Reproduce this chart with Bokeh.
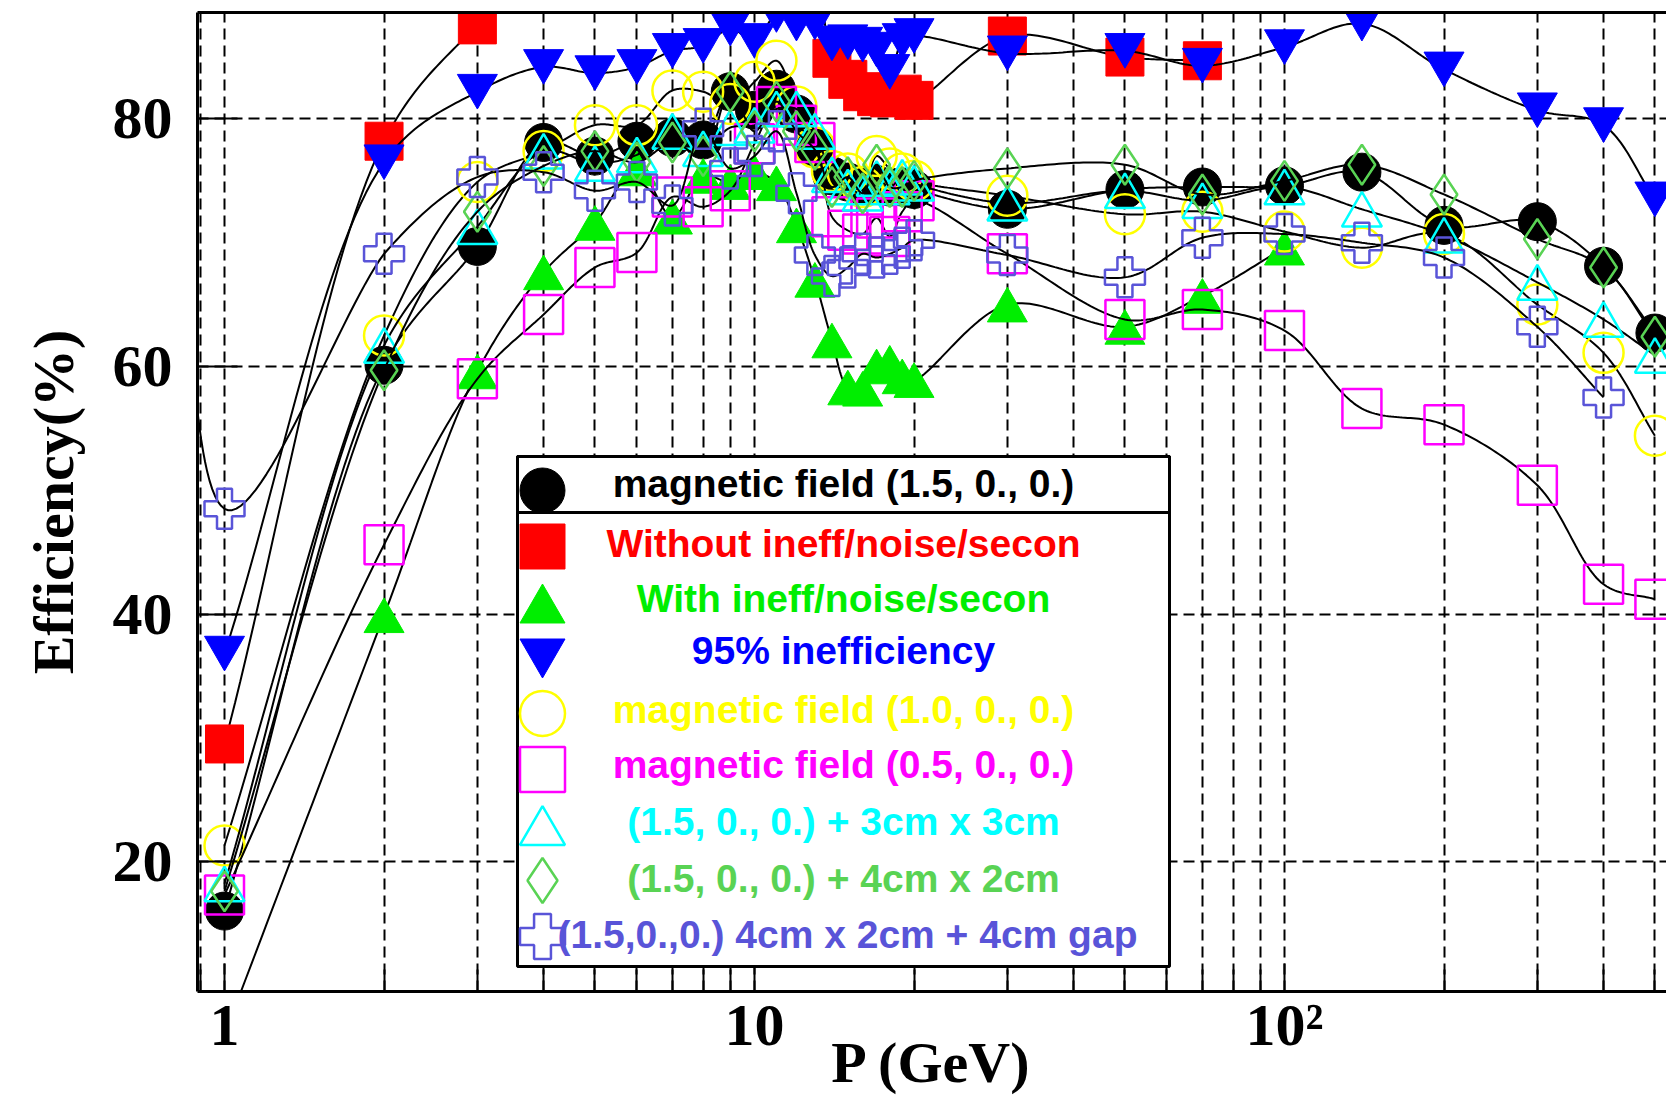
import numpy as np
from bokeh.plotting import figure
from bokeh.models import ColumnDataSource, FixedTicker, LogAxis, BoxAnnotation, Label, Range1d
from bokeh.transform import dodge
from bokeh.embed import file_html
from bokeh.resources import INLINE

# ---------------- data ----------------
P_LOW = [1, 2, 3, 4, 5, 6, 7, 8, 9, 10, 11, 12, 13, 14, 15, 16, 17, 18, 19, 20]
P_HIGH = [30, 50, 70, 100, 140, 200, 300, 400, 500]
P_ALL = P_LOW + P_HIGH

field15 = [16.0, 60.1, 69.7, 78.1, 77.0, 78.2, 78.5, 78.3, 82.2, 80.7, 82.4, 80.4, 77.7, 75.4, 74.9, 74.6, 74.7, 74.5, 74.5, 74.3,
           72.7, 74.3, 74.5, 74.6, 75.7, 71.4, 71.7, 68.1, 62.7]
without_p = P_LOW + [30, 50, 70]
without = [29.5, 78.2, 87.6, 92.5, 93.0, 93.0, 93.0, 93.0, 93.0, 92.5, 92.0, 91.5, 91.0, 84.9, 83.2, 82.2, 81.8, 81.7, 82.0, 81.5,
           86.7, 85.0, 84.7]
with_p = P_LOW + [30, 50, 70, 100]
with_v = [6.0, 39.9, 59.6, 67.6, 71.6, 76.0, 72.1, 75.4, 74.9, 75.7, 74.8, 71.4, 67.0, 62.1, 58.3, 58.2, 60.0, 60.3, 59.2, 58.9,
          65.0, 63.2, 65.7, 69.6]
ineff95 = [36.8, 76.5, 82.2, 84.2, 83.7, 84.2, 85.5, 85.9, 87.3, 86.3, 88.4, 87.7, 87.8, 86.1, 86.2, 86.0, 85.6, 83.8, 86.3, 86.7,
           85.3, 85.5, 84.3, 85.8, 87.7, 84.0, 80.7, 79.5, 73.5]
field10 = [21.3, 62.5, 74.9, 77.4, 79.5, 79.5, 82.3, 82.2, 81.2, 83.0, 84.7, 81.0, 77.7, 75.8, 75.6, 74.5, 77.0, 76.0, 75.6, 75.0,
           73.8, 72.3, 72.5, 70.9, 69.6, 70.7, 65.0, 61.1, 54.4]
field05 = [17.3, 45.6, 59.0, 64.2, 68.0, 69.2, 73.7, 72.9, 74.2, 78.0, 81.0, 79.5, 78.1, 72.1, 71.0, 70.7, 72.0, 70.5, 72.5, 73.4,
           69.1, 63.8, 64.6, 62.9, 56.6, 55.3, 50.4, 42.4, 41.2]
pad3x3 = [18.2, 61.7, 71.3, 77.4, 76.4, 77.1, 79.0, 77.6, 79.3, 79.5, 80.8, 80.8, 79.0, 75.5, 74.5, 74.0, 75.2, 74.5, 75.3, 74.8,
          73.2, 74.2, 73.4, 74.5, 72.7, 70.6, 66.8, 63.8, 60.9]
pad4x2 = [17.6, 59.7, 72.5, 76.2, 77.4, 76.5, 78.1, 77.0, 82.2, 79.0, 81.4, 79.0, 77.5, 74.5, 75.3, 74.0, 76.3, 74.5, 74.5, 75.0,
          76.0, 76.3, 73.9, 75.0, 76.3, 73.9, 70.3, 68.0, 62.4]
gap_p = [0.8] + P_LOW + [30, 50, 70, 100, 140, 200, 300, 400]
gap = [80.0, 48.5, 69.1, 75.3, 75.7, 74.2, 74.9, 73.0, 79.2, 76.0, 77.0, 79.0, 74.0, 69.0, 67.3, 68.0, 69.1, 68.8, 69.1, 69.6, 70.2,
       69.0, 67.2, 70.4, 70.7, 70.0, 68.8, 63.2, 57.5]

labels = ["magnetic field (1.5, 0., 0.)", "Without ineff/noise/secon", "With ineff/noise/secon",
          "95% inefficiency", "magnetic field (1.0, 0., 0.)", "magnetic field (0.5, 0., 0.)",
          "(1.5, 0., 0.) + 3cm x 3cm", "(1.5, 0., 0.) + 4cm x 2cm", "(1.5,0.,0.) 4cm x 2cm + 4cm gap"]

x_tick_values = [1, 10, 100]
x_tick_labels = ["1", "10", "10\u00b2"]
y_tick_values = [20, 40, 60, 80]
x_title = "P (GeV)"
y_title = "Efficiency(%)"

# ---------------- geometry (page pixels; Bokeh page has no body margin) ----------------
W, H = 1666, 1098
FL, FT = 197, 12           # frame left / top
FR, FB = W, 991            # frame right / bottom
X0, X1 = 0.8893, 525.8
Y0, Y1 = 9.5, 88.6
LX0, LX1 = np.log10(X0), np.log10(X1)
PPD = (FR - FL) / (LX1 - LX0)
PPU = (FB - FT) / (Y1 - Y0)


def page_x(px):
    return 10 ** (LX0 + (px - FL) / PPD)


def page_y(py):
    return Y1 - (py - FT) / PPU


def smooth(xs, ys, n=30, first_alpha=0.5):
    u = (np.log10(np.asarray(xs, float)) - LX0) * PPD
    v = (np.asarray(ys, float) - Y0) * PPU
    pts = np.column_stack([u, v])
    P = np.vstack([2 * pts[0] - pts[1], pts, 2 * pts[-1] - pts[-2]])
    out = []
    for i in range(1, len(P) - 2):
        al = first_alpha if i <= 2 else 0.5
        p0, p1, p2, p3 = P[i - 1], P[i], P[i + 1], P[i + 2]
        t0 = 0.0
        t1 = t0 + max(np.linalg.norm(p1 - p0), 1e-6) ** al
        t2 = t1 + max(np.linalg.norm(p2 - p1), 1e-6) ** al
        t3 = t2 + max(np.linalg.norm(p3 - p2), 1e-6) ** al
        for t in np.linspace(t1, t2, n, endpoint=False):
            A1 = (t1 - t) / (t1 - t0) * p0 + (t - t0) / (t1 - t0) * p1
            A2 = (t2 - t) / (t2 - t1) * p1 + (t - t1) / (t2 - t1) * p2
            A3 = (t3 - t) / (t3 - t2) * p2 + (t - t2) / (t3 - t2) * p3
            B1 = (t2 - t) / (t2 - t0) * A1 + (t - t0) / (t2 - t0) * A2
            B2 = (t3 - t) / (t3 - t1) * A2 + (t - t1) / (t3 - t1) * A3
            C = (t2 - t) / (t2 - t1) * B1 + (t - t1) / (t2 - t1) * B2
            out.append(C)
    out.append(pts[-1])
    out = np.array(out)
    return 10 ** (out[:, 0] / PPD + LX0), out[:, 1] / PPU + Y0


p = figure(width=W, height=H, x_axis_type="log", output_backend="svg", toolbar_location=None,
           x_range=Range1d(X0, X1), y_range=Range1d(Y0, Y1),
           min_border_left=FL, min_border_right=0, min_border_top=FT, min_border_bottom=H - FB)
p.outline_line_color = None
p.background_fill_color = "white"
p.border_fill_color = "white"

# grid
grid_x = [0.9] + [m * d for d in (1, 10, 100) for m in range(1, 10)]
grid_x = [g for g in grid_x if g <= 500]
minor_x = [g for g in grid_x if g not in x_tick_values]
p.xgrid.ticker = FixedTicker(ticks=grid_x)
p.ygrid.ticker = FixedTicker(ticks=y_tick_values)
for g in (p.xgrid, p.ygrid):
    g.grid_line_color = "black"
    g.grid_line_dash = "11 6"
    g.grid_line_width = 2

# axes
serif = "Liberation Serif"
xa = p.xaxis[0]
xa.ticker = FixedTicker(ticks=x_tick_values, minor_ticks=minor_x)
xa.major_label_overrides = {float(v): s for v, s in zip(x_tick_values, x_tick_labels)}
xa.major_tick_in, xa.major_tick_out = 28, 0
xa.minor_tick_in, xa.minor_tick_out = 22, 0
xa.major_label_standoff = 0
xa.axis_label = x_title
xa.axis_label_standoff = -31
ya = p.yaxis[0]
ya.ticker = FixedTicker(ticks=y_tick_values)
ya.minor_tick_line_color = None
ya.major_tick_in, ya.major_tick_out = 40, 0
ya.axis_label = y_title
ya.axis_label_standoff = 24
ya.major_label_standoff = 25
for a in (xa, ya):
    a.axis_line_width = 3
    a.major_tick_line_width = 2
    a.minor_tick_line_width = 2
    a.major_label_text_font = serif
    a.major_label_text_font_style = "bold"
    a.major_label_text_font_size = "60px"
    a.major_label_text_color = "black"
    a.axis_label_text_font = serif
    a.axis_label_text_font_style = "bold"
    a.axis_label_text_font_size = "58px"
    a.axis_label_text_color = "black"

top = LogAxis(ticker=FixedTicker(ticks=x_tick_values, minor_ticks=minor_x), axis_line_width=3,
              major_tick_line_color=None, minor_tick_line_color=None,
              major_label_overrides={float(v): " " for v in x_tick_values},
              major_label_text_font_size="1px", major_label_standoff=0)
p.add_layout(top, "above")

# series
TRI_OFF = 40 * 0.866 / 6 / PPU
series = [
    dict(x=P_ALL, y=field15, marker="circle", color="black", fill="black", size=38, off=0),
    dict(x=without_p, y=without, marker="square", color="#ff0000", fill="#ff0000", size=38, off=0),
    dict(x=with_p, y=with_v, marker="triangle", color="#00ee00", fill="#00ee00", size=40, off=-TRI_OFF),
    dict(x=P_ALL, y=ineff95, marker="inverted_triangle", color="#0000ff", fill="#0000ff", size=40, off=TRI_OFF),
    dict(x=P_ALL, y=field10, marker="circle", color="#ffff00", fill=None, size=40, off=0),
    dict(x=P_ALL, y=field05, marker="square", color="#ff00ff", fill=None, size=39, off=0),
    dict(x=P_ALL, y=pad3x3, marker="triangle", color="#00ffff", fill=None, size=40, off=-TRI_OFF),
    dict(x=P_ALL, y=pad4x2, marker="diamond", color="#59d354", fill=None, size=40, off=0),
    dict(x=gap_p, y=gap, marker="plus", color="#5954d8", fill=None, size=40, off=0, first_alpha=0.0),
]
text_colors = ["black", "#ff0000", "#00ee00", "#0000ff", "#ffff00", "#ff00ff", "#00ffff", "#59d354", "#5954d8"]

for s in series:
    cx, cy = smooth(s["x"], s["y"], first_alpha=s.get("first_alpha", 0.5))
    p.line(cx, cy, line_color="black", line_width=2)
    src = ColumnDataSource(dict(x=s["x"], y=s["y"]))
    p.scatter(x="x", y=dodge("y", s["off"], range=p.y_range), source=src, marker=s["marker"], size=s["size"],
              line_color=s["color"], fill_color=s["fill"], line_width=2.5 if s["fill"] is None else 1)

# legend (ROOT style box)
LEG = dict(left=517, right=1169, top=456, bottom=966, head=512)
p.add_layout(BoxAnnotation(left=page_x(LEG["left"]), right=page_x(LEG["right"]),
                           top=page_y(LEG["top"]), bottom=page_y(LEG["bottom"]),
                           fill_color="white", fill_alpha=1.0, line_color="black", line_alpha=1.0, line_width=3))
p.add_layout(BoxAnnotation(left=page_x(LEG["left"]), right=page_x(LEG["right"]),
                           top=page_y(LEG["top"]), bottom=page_y(LEG["head"]),
                           fill_alpha=0.0, line_color="black", line_alpha=1.0, line_width=3))
row_text = [483, 543, 598, 650, 709, 764, 821, 878, 934]
row_mark = [490, 546, 603, 658, 713, 769, 825, 880, 936]
for i, s in enumerate(series):
    lsrc = ColumnDataSource(dict(x=[page_x(542)], y=[page_y(row_mark[i])]))
    r = p.scatter(x="x", y=dodge("y", s["off"] * 45 / 40, range=p.y_range), source=lsrc, marker=s["marker"],
                  size=45, line_color=s["color"], fill_color=s["fill"],
                  line_width=2.5 if s["fill"] is None else 1)
    r.level = "overlay"
    p.add_layout(Label(x=page_x(847 if i == 8 else 843), y=page_y(row_text[i]), text=labels[i],
                       text_align="center", text_baseline="middle", text_font="Liberation Sans",
                       text_font_style="bold", text_font_size="39px", text_color=text_colors[i]))

open("out.html", "w").write(file_html(p, INLINE))
